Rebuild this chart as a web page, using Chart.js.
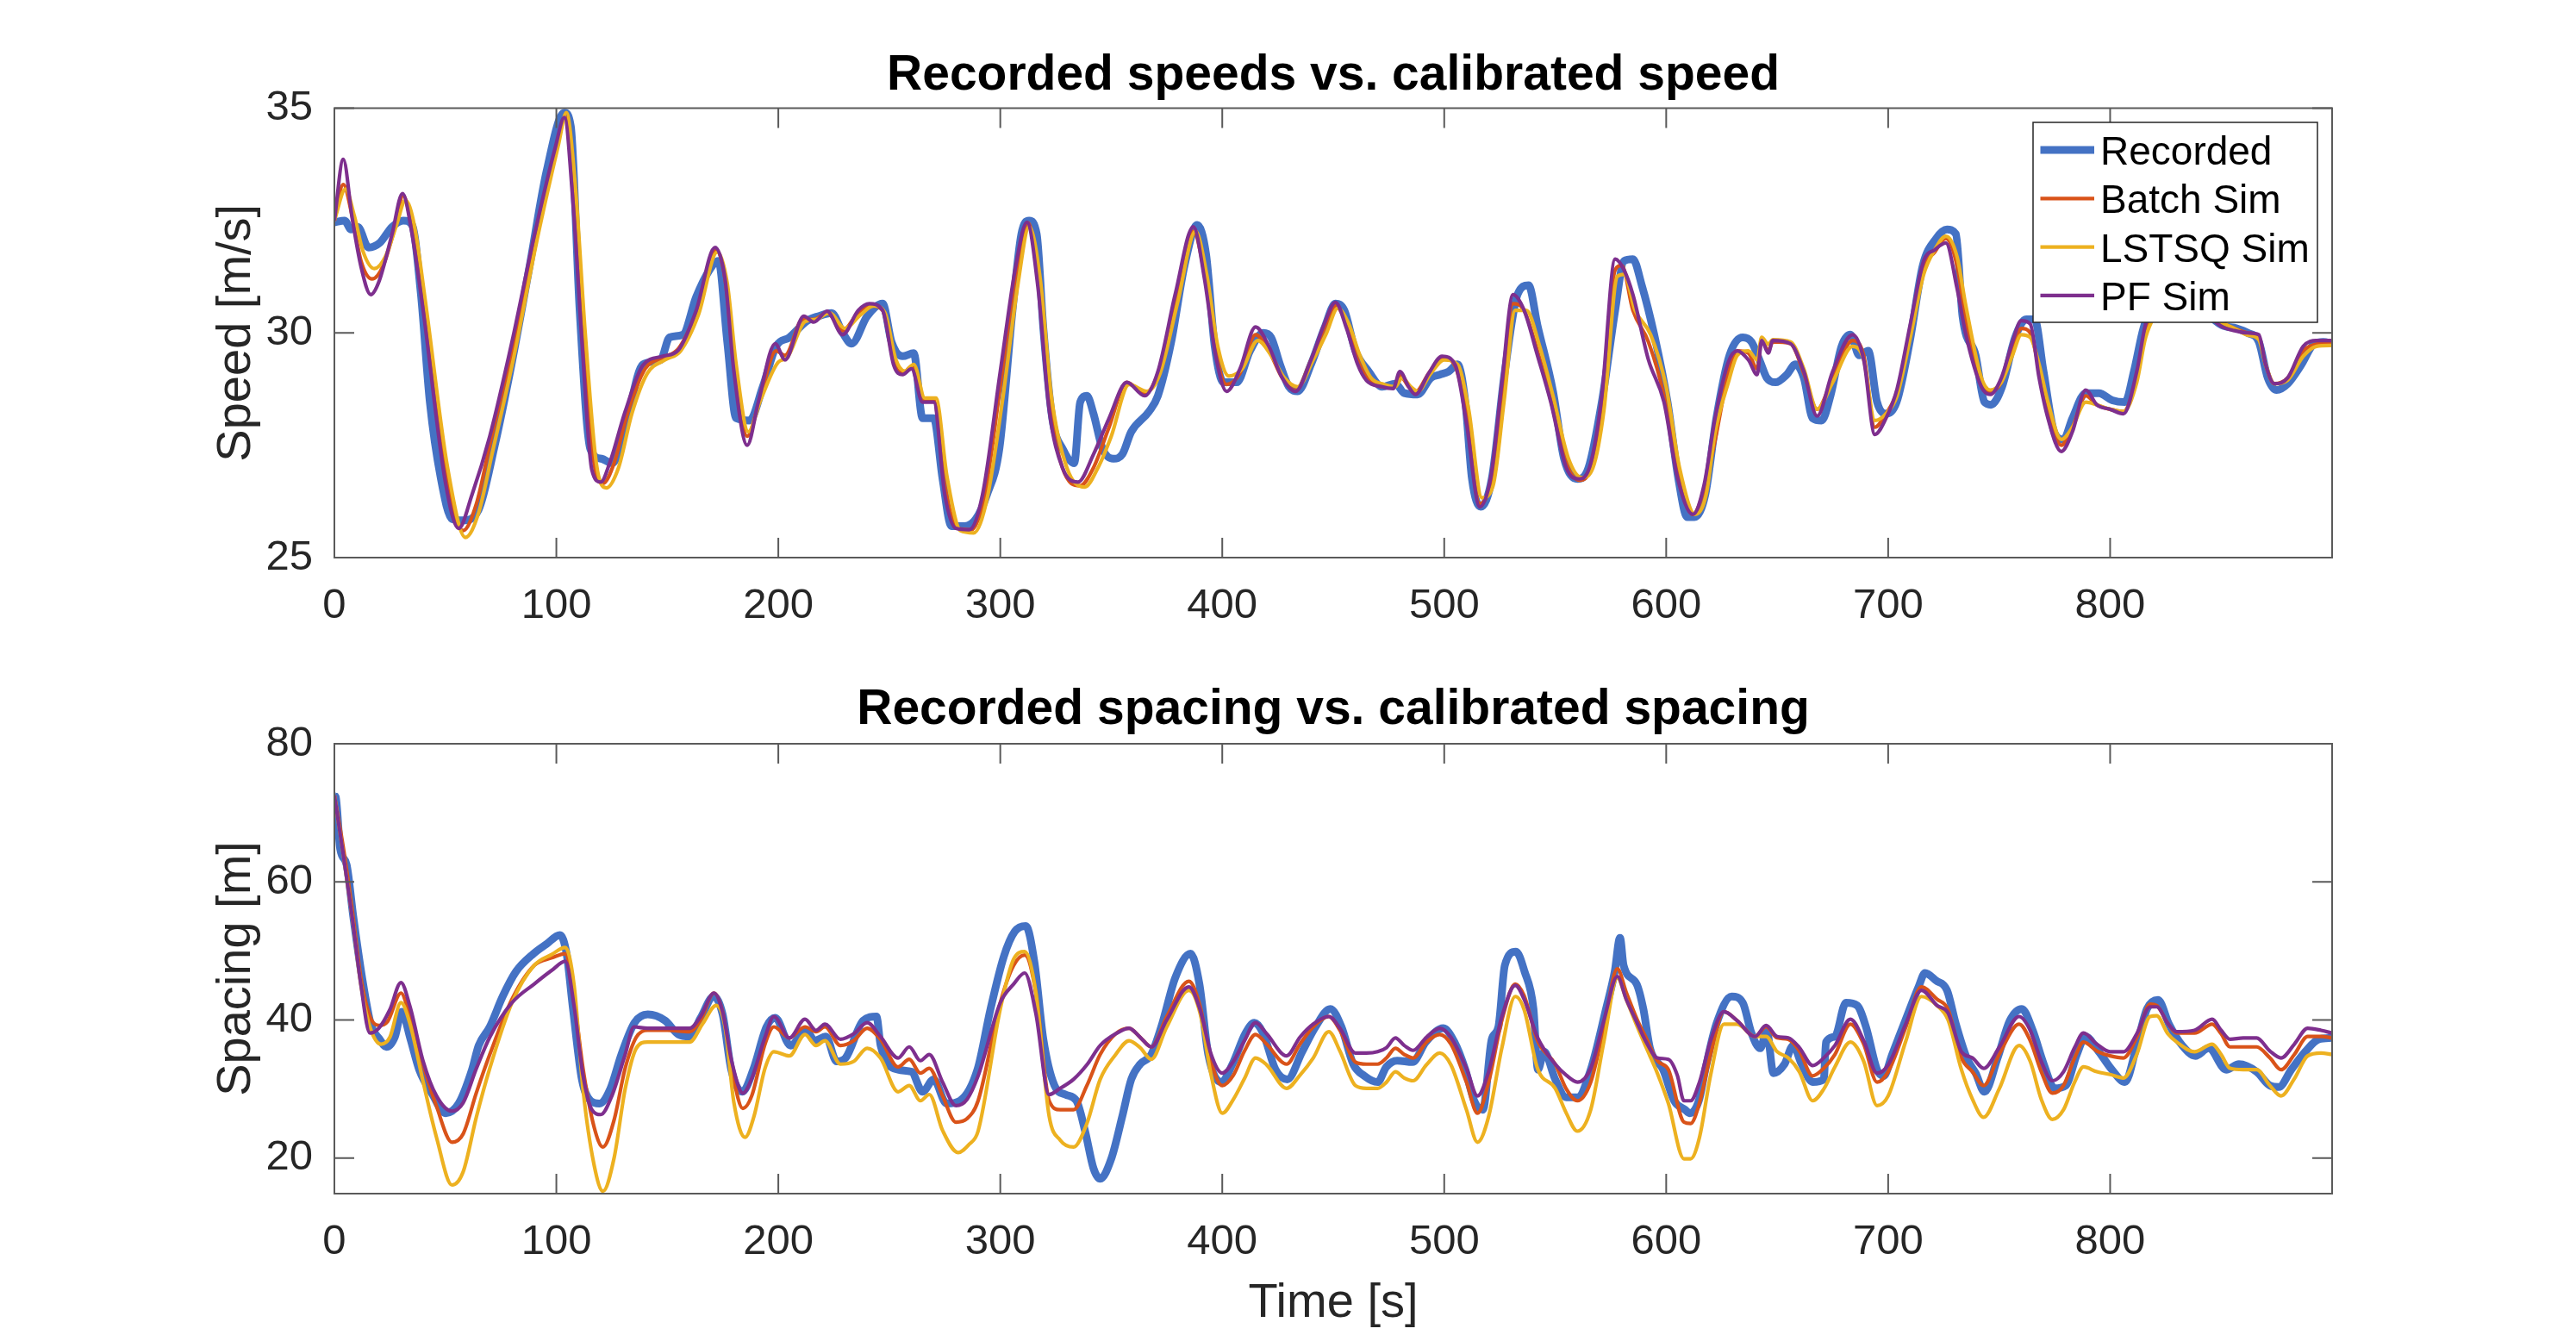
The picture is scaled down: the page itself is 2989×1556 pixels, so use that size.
<!DOCTYPE html>
<html lang="en">
<head>
  <meta charset="UTF-8">
  <script src="https://cdn.jsdelivr.net/npm/chart.js"></script>
  <title>Recorded vs calibrated</title>
  <style>
    body{margin:0;background:#fff;overflow:hidden;}
    .plot{position:relative;width:2989px;height:778px;}
  </style>
</head>
<body>
  <div class="plot"><canvas id="speedChart"></canvas></div>
  <div class="plot"><canvas id="spacingChart"></canvas></div>
<script>
// series names and ticks
const seriesNames = ['Recorded', 'Batch Sim', 'LSTSQ Sim', 'PF Sim'];
const timeTicks = [0, 100, 200, 300, 400, 500, 600, 700, 800];
const speedTicks = [25, 30, 35];
const spacingTicks = [20, 40, 60, 80];

// speed [m/s], pairs of [time s, value]
const speedRecorded = [[0,32.46],[4.6,32.5],[7.5,32.3],[10.5,32.36],[15.4,31.9],[20.4,32.0],[26,32.36],[31,32.5],[35,32.4],[39,30.85],[43,28.46],[48,26.75],[53,25.86],[58,25.83],[65,26.07],[72,27.44],[80,29.35],[88,31.5],[95.6,33.6],[103.6,34.9],[106.5,34.6],[110.5,30.5],[115.4,27.4],[120.4,27.2],[125.3,27.1],[131,27.9],[139,29.3],[147,29.4],[151,29.9],[157,29.96],[163,30.8],[169,31.4],[173,31.6],[177,29.8],[181,28.1],[187,28.05],[193,28.8],[199,29.7],[205,29.9],[213,30.27],[218,30.37],[224,30.44],[229,30.0],[233,29.76],[240,30.37],[247,30.65],[251,29.8],[256,29.48],[261,29.55],[265,28.1],[270,28.1],[274,26.75],[278,25.7],[284,25.7],[289,25.86],[294,26.4],[299.6,27.43],[305.5,30.5],[309.5,32.2],[313,32.5],[316.4,32.2],[319.4,30.1],[323.4,28.1],[328.3,27.4],[333.3,27.1],[336,28.46],[339,28.6],[342,28.2],[346,27.43],[351,27.2],[355,27.3],[359,27.8],[367,28.25],[371,28.6],[377,29.8],[383,31.5],[388.7,32.4],[392.7,31.75],[396.6,29.7],[400.6,28.9],[406.5,28.9],[412.5,29.6],[418.4,30.0],[422,29.9],[426,29.3],[430,28.8],[434,28.7],[440,29.3],[446,30.1],[451,30.65],[455,30.5],[460,29.6],[466,29.14],[472,28.8],[478,28.87],[482,28.66],[488,28.63],[494,29.0],[498,29.07],[502,29.14],[506,29.3],[509.5,28.46],[512.5,26.75],[516.4,26.13],[521.4,26.75],[527.3,29.14],[533,30.85],[538,31.06],[542,30.17],[549,28.7],[554,27.2],[560,26.75],[565,27.0],[571,28.46],[577,30.5],[581,31.6],[585,31.64],[589,31.06],[594.6,29.96],[600.6,28.46],[605.5,26.75],[609.5,25.9],[612.7,25.9],[617.6,26.4],[622.6,28.1],[628.5,29.5],[634.5,29.9],[638.4,29.8],[642.4,29.35],[645.3,29.0],[649.3,28.9],[654.3,29.07],[658.2,29.3],[662,29.0],[666,28.1],[670,28.05],[674,28.6],[679,29.7],[683,29.96],[687,29.5],[691,29.6],[695,28.46],[698.8,28.2],[703.8,28.46],[709.7,29.8],[715.6,31.5],[721.6,32.1],[726.5,32.3],[730.5,32.2],[733.5,30.37],[739.4,29.5],[743.4,28.46],[746.3,28.4],[751.3,28.8],[757.2,29.9],[762.2,30.3],[766,30.3],[770,29.14],[775,27.77],[779,27.63],[783,28.1],[789,28.66],[795,28.66],[801,28.5],[806.7,28.46],[810.7,29.14],[815,30.1],[822,30.9],[830,31.0],[840,30.6],[850.3,30.17],[857,30.1],[862,30.0],[867,29.8],[871,29.0],[875,28.73],[880,28.87],[886,29.28],[892,29.76],[896,29.8],[900,29.76]];
const speedBatch = [[0,32.5],[4,33.3],[8,32.6],[12,31.6],[17,31.2],[22,31.5],[27,32.3],[31,33.05],[35,32.3],[40,30.6],[50,26.9],[58,25.6],[64,26.2],[70,27.5],[80,29.6],[90,32.0],[100,34.1],[104,34.8],[108,33.0],[112,29.9],[117,27.1],[121,26.65],[126,27.1],[132,28.2],[140,29.2],[148,29.45],[155,29.65],[163,30.45],[172,31.85],[176,31.2],[180,29.3],[186,27.7],[191,28.4],[199,29.6],[203,29.5],[211,30.3],[216,30.3],[222,30.45],[229,30.05],[236,30.45],[242,30.6],[247,30.5],[252,29.35],[256,29.1],[260,29.25],[265,28.5],[270,28.5],[275,26.6],[281,25.65],[287,25.62],[293,26.4],[300,28.8],[307,31.3],[312.5,32.45],[317,31.2],[322,28.5],[328,27.0],[336,26.6],[342,27.0],[349,27.9],[357,28.9],[365,28.65],[371,29.1],[379,30.8],[387,32.26],[392,31.3],[397,29.6],[402,28.85],[408,29.1],[415,29.96],[421,29.6],[427,29.0],[433,28.72],[440,29.4],[446,30.1],[451,30.6],[456,30.2],[461,29.4],[466,28.95],[472,28.8],[477,28.78],[480,29.05],[484,28.8],[487,28.68],[493,29.1],[499,29.45],[505,29.25],[510,28.2],[516,26.2],[521,26.7],[526,28.7],[531,30.65],[536,30.5],[542,29.6],[548,28.5],[555,27.1],[561,26.72],[566,27.0],[571,28.4],[577,31.4],[580,31.5],[585,30.5],[592,29.8],[599,28.6],[605,26.9],[612,25.96],[617,26.5],[622,27.6],[628,29.1],[632,29.6],[637,29.55],[641,29.2],[643,29.85],[646,29.6],[648,29.8],[656,29.76],[662,29.1],[668,28.3],[675,29.0],[684,29.83],[689,29.5],[694,27.9],[699,28.2],[704,28.7],[710,30.1],[716,31.45],[721,31.8],[726,32.1],[731,31.5],[735,30.3],[742,28.9],[746,28.7],[751,28.9],[756,29.6],[760,30.1],[764,30.0],[768,29.2],[772,28.3],[778,27.5],[783,27.9],[789,28.6],[794,28.4],[800,28.3],[806,28.25],[812,29.0],[816,30.0],[824,30.7],[832,30.8],[842,30.5],[850,30.24],[856,30.1],[862,30.0],[867,29.9],[870,29.3],[874,28.87],[880,29.0],[887,29.6],[893,29.75],[900,29.78]];
const speedLstsq = [[0,32.5],[5,33.2],[9,32.6],[13,31.8],[18,31.43],[23,31.7],[28,32.4],[32,32.95],[36,32.4],[41,30.7],[51,27.0],[59,25.45],[65,26.0],[71,27.3],[81,29.5],[91,32.0],[101,34.2],[104.5,34.9],[108.5,33.3],[113,30.0],[118,27.1],[122.5,26.55],[128,27.0],[134,28.2],[141,29.1],[149,29.4],[156,29.6],[164,30.4],[172.5,31.8],[177,31.1],[181,29.3],[186.5,27.8],[192,28.5],[200,29.35],[204,29.45],[212,30.25],[217,30.3],[223,30.45],[230,30.1],[237,30.4],[243,30.6],[248,30.45],[253,29.4],[257,29.15],[261,29.3],[266,28.55],[271,28.55],[276,26.8],[282,25.6],[288,25.55],[294,26.3],[301,28.5],[308,31.1],[313,32.36],[318,31.2],[323,28.6],[330,27.0],[338,26.57],[344,27.0],[350,27.7],[358,28.85],[366,28.7],[372,29.1],[380,30.7],[388,32.26],[393,31.3],[398,29.7],[403,29.04],[409,29.2],[416,29.83],[422,29.5],[428,29.0],[434,28.8],[441,29.4],[447,30.0],[452,30.55],[457,30.2],[462,29.5],[467,29.0],[473,28.85],[478,28.8],[481,29.0],[485,28.8],[488,28.7],[494,29.1],[500,29.4],[506,29.3],[511,28.3],[517,26.33],[522,26.6],[527,28.5],[532,30.5],[537,30.5],[543,29.7],[549,28.6],[556,27.2],[562,26.78],[567,27.0],[572,28.3],[578,31.26],[581,31.3],[586,30.5],[593,29.96],[600,28.8],[606,27.0],[613,25.96],[618,26.4],[622,27.77],[628,28.9],[632,29.5],[637,29.6],[641,29.4],[643,29.9],[646,29.75],[648,29.85],[656,29.8],[662,29.2],[668,28.3],[675,28.9],[684,29.7],[689,29.4],[694,28.05],[699,28.2],[704,28.6],[710,29.9],[716,31.3],[721,31.85],[726,32.15],[731,31.7],[735,30.6],[742,29.0],[746,28.73],[751,28.9],[756,29.5],[760,29.96],[764,29.9],[768,29.3],[772,28.46],[778,27.63],[783,27.9],[789,28.46],[794,28.4],[800,28.3],[806,28.25],[812,28.9],[816,29.9],[824,30.6],[832,30.8],[842,30.5],[850,30.24],[856,30.1],[862,29.95],[867,29.85],[870,29.3],[874,28.87],[880,28.95],[887,29.48],[893,29.7],[900,29.72]];
const speedPf = [[0,32.5],[4,33.86],[8,32.56],[12,31.47],[16.4,30.85],[20,31.13],[26,32.2],[30.7,33.1],[35,32.2],[40,30.5],[50,26.68],[56,25.65],[62,26.4],[70,27.7],[80,29.8],[90,32.15],[99.6,34.14],[103.6,34.79],[107.5,32.9],[111.5,29.83],[116,26.95],[120,26.68],[124,27.1],[131,28.25],[139,29.28],[148,29.48],[155,29.62],[163,30.5],[171.5,31.9],[176,31.2],[180,29.14],[186,27.5],[191,28.46],[198.6,29.76],[203,29.4],[211.5,30.37],[216,30.24],[222,30.48],[229,29.96],[236,30.5],[241,30.65],[247,30.5],[252,29.28],[256,29.07],[260,29.2],[265,28.46],[270,28.46],[275,26.4],[280,25.65],[286,25.62],[292,26.4],[300,29.14],[307,31.5],[312,32.46],[317,31.0],[322,28.3],[328,27.0],[335,26.68],[342,27.3],[349,28.1],[357,28.9],[365,28.6],[371,29.14],[379,30.9],[387,32.36],[392,31.2],[397,29.5],[402,28.7],[408,29.2],[415,30.13],[421,29.7],[427,29.0],[433,28.7],[440,29.4],[446,30.2],[451,30.68],[456,30.1],[461,29.3],[465,28.94],[472,28.8],[477,28.76],[480,29.14],[484,28.8],[487,28.63],[493,29.1],[499,29.48],[505,29.28],[510,28.0],[516,26.13],[521,26.8],[526,28.9],[531,30.85],[536,30.5],[542,29.5],[548,28.46],[555,27.0],[561,26.75],[566,27.1],[571,28.6],[577,31.64],[581,31.4],[585,30.85],[592,29.4],[599,28.46],[605,26.8],[612,25.96],[617,26.6],[622,28.1],[628,29.35],[632,29.6],[637,29.4],[641,29.07],[643,29.83],[646,29.55],[648,29.83],[656,29.76],[662,29.14],[668,28.15],[675,29.14],[684,29.96],[689,29.4],[694,27.74],[699,28.1],[704,28.75],[710,30.2],[716,31.6],[721,31.85],[726,32.0],[731,31.0],[735,29.96],[742,28.8],[746,28.63],[751,29.0],[756,29.8],[760,30.27],[764,30.2],[768,29.0],[772,28.1],[778,27.36],[783,27.8],[789,28.73],[794,28.4],[800,28.3],[806,28.2],[812,29.14],[816,30.2],[824,30.8],[832,30.9],[842,30.5],[850,30.15],[856,30.05],[862,30.0],[867,29.96],[870,29.3],[874,28.87],[880,29.0],[887,29.7],[893,29.83],[900,29.83]];

// spacing [m], pairs of [time s, value]
const spacingRecorded = [[0,72.5],[0.6,72.3],[2.6,64.8],[5.5,62.5],[8.5,55],[12.5,46.1],[16.4,39.4],[20.4,37.2],[23.4,36.1],[27.3,37.6],[30.3,41.2],[34.3,37.2],[38.2,32.8],[44.2,29.2],[50.1,26.5],[56,27.9],[62,32.8],[65,36.3],[70,39.0],[75.8,43.4],[81.8,47.0],[89.7,49.6],[95.6,51.0],[101.6,52.3],[104.6,49.6],[107.5,41.6],[111.5,31.4],[115.4,28.3],[119.4,27.9],[124.4,30.1],[129.3,35.0],[135.2,39.6],[141.2,40.8],[149,39.9],[155,37.9],[160,37.6],[165,40.3],[170.9,43.4],[174.9,40.8],[178.8,32.8],[183.8,29.6],[188.7,32.8],[194.7,39.0],[198.6,40.3],[205.5,36.3],[212.5,38.5],[216.4,37.0],[221.4,37.6],[226.3,34.0],[230.3,34.5],[238.2,39.9],[244.2,40.5],[246.1,36.3],[254,32.8],[260,32.5],[265,29.6],[270,31.4],[275.8,27.9],[281.8,28.3],[289.7,32.8],[295.6,41.6],[301.6,49.2],[306.5,52.8],[311.5,53.6],[315.4,48.3],[319.4,37.2],[324.4,30.5],[329.3,29.2],[334.3,28.3],[338.2,23.9],[342,18.5],[345,17.0],[350,19.9],[355,26.1],[359,31.4],[363,33.6],[368,35.0],[372.9,39.4],[378.8,46.1],[385.7,49.6],[389.7,45.2],[393.7,35.0],[399.6,31.0],[404.6,33.6],[410.5,38.1],[414.5,39.6],[418.4,38.1],[424,32.8],[429.3,31.4],[436,35.4],[442,39.0],[448.7,41.6],[453.7,39.0],[459,33.6],[464,31.9],[470,31.0],[473.9,33.2],[478.8,34.1],[485.7,33.9],[491.7,36.8],[499.6,38.8],[504.6,36.8],[509.5,32.8],[513.5,28.3],[517.4,27.0],[521.4,37.2],[524.4,39.0],[527.3,47.9],[532.3,49.9],[536.2,47.0],[540.2,41.6],[542.2,32.8],[545,35.4],[550,31.4],[555,28.8],[560,28.8],[566,32.8],[572.9,41.6],[576.8,47.0],[579.2,51.9],[580.8,47.9],[586.7,45.2],[589.7,41.6],[592.7,35.9],[598.6,32.8],[603.6,28.3],[608.5,27.0],[610.7,26.5],[614.7,28.3],[617.6,32.8],[622.6,39.4],[629.5,43.4],[634.5,42.5],[638.4,38.1],[642.4,35.9],[645.3,38.5],[648.3,32.3],[653.3,33.6],[657.2,36.3],[661,33.6],[666,31.0],[671,31.4],[672,36.8],[676,37.6],[681,42.5],[686,42.1],[690,39.0],[695,32.8],[698,31.9],[701.8,35.0],[707.7,39.9],[713.7,44.8],[716.6,46.8],[721.6,45.7],[726.5,44.3],[730.5,39.4],[735.4,34.5],[739.4,32.3],[743.4,29.6],[749.3,34.5],[754.8,39.9],[760.2,41.6],[765.1,38.5],[770.1,33.6],[775,30.1],[780,30.5],[785,35.0],[788.9,37.6],[794.9,35.4],[800.8,32.8],[806.7,31.0],[811.7,35.9],[816.6,41.6],[821.6,42.9],[826.5,39.4],[832.5,36.3],[838.4,34.8],[844.4,35.9],[852.3,32.8],[858,33.6],[866,32.5],[872,30.5],[876,30.3],[881.6,32.8],[887.9,35.4],[894,37.2],[900,37.4]];
const spacingBatch = [[0,72.5],[4,65],[8,56],[12,46],[16,40.5],[20,39.2],[24,39.8],[30,43.9],[34,40.5],[40,33.5],[46,27.5],[53,22.3],[58,23.5],[64,29.5],[70,35],[80,43],[90,47.9],[98,49.0],[104,49.6],[108,43],[112,33],[117,24.5],[121,21.6],[126,25.5],[131,33],[136,37.5],[141,38.5],[150,38.5],[160,38.3],[165,40],[171,43.9],[175,41],[179,33],[184,27.2],[188,29],[194,36.5],[198,39.0],[205,37.4],[212,39],[217,38.3],[221,39],[228,36.3],[234,37],[240,38.8],[246,37.2],[254,33.2],[259,34.3],[264,32.3],[268,33.0],[274,29],[280,25.2],[285,25.7],[290,28.3],[300,42.5],[306,47.9],[311,49.4],[316,44],[322,28.3],[327,27.0],[333,27.0],[339,30.5],[345,35],[352,38],[358,38.8],[363,37.5],[368,36.1],[375,40.5],[385,45.6],[390,42],[395,34],[400,30.5],[405,32],[410,35.5],[415,37.9],[420,36.5],[429,33.6],[435,36.5],[441,39],[448,40.5],[453,38.5],[460,33.9],[465,33.6],[470,33.6],[474,34.5],[478,35.9],[482,35.0],[486,34.5],[492,36.8],[498,37.9],[503,36.5],[510,31],[515,26.5],[520,31],[526,40],[532,45.2],[536,43.5],[542,37],[550,33.6],[555,30],[560,28.3],[566,31],[572,39],[578,47.4],[582,44],[587,40],[591,37.4],[596,34.1],[601,32.8],[608,25.2],[611,25.0],[615,28],[620,35],[626,41.2],[632,39.9],[640,37.6],[645,39],[650,37.4],[655,37.2],[660,35.5],[666,31.9],[671,33],[676,35],[683,39.4],[689,36.5],[695,31.0],[700,32.5],[708,39],[715,44.8],[722,43],[727,41.5],[733,34.5],[738,32.5],[743,30.5],[750,35],[759,39.4],[764,37],[769,32.5],[774,29.4],[779,30.5],[784,34.5],[788,36.8],[794,35.5],[800,34.8],[806,34.5],[812,37.5],[818,42.3],[821,42.1],[826,39.5],[830,38.1],[838,38.1],[846,39.4],[850,38],[854,36.1],[860,36.1],[866,36.1],[872,34.5],[877,32.8],[883,35],[889,37.6],[895,37.6],[900,37.4]];
const spacingLstsq = [[0,72.5],[4,64],[8,55],[12,45],[16,39],[21,36.5],[25,37.5],[30,42.5],[34,39.5],[40,31],[46,23],[53,16.1],[58,18],[64,26],[70,33],[80,42.5],[90,47.9],[98,49.5],[104,50.5],[108,45],[112,30],[117,19],[121,15.2],[126,20],[131,30],[136,35.9],[141,36.8],[150,36.8],[160,36.8],[166,39.5],[172,42.1],[176,39],[180,28],[185,23.0],[189,26],[194,33],[198,35.4],[205,34.8],[212,37.9],[217,36.3],[221,37],[228,33.6],[234,34],[240,35.9],[246,34.5],[254,29.6],[259,30.5],[264,28.3],[268,29.2],[274,24],[281,20.8],[286,22],[290,23.9],[300,41.6],[306,48.8],[311,49.9],[316,44],[322,26.1],[327,22.6],[333,21.6],[339,25],[345,31.4],[352,35],[358,37.0],[363,36],[368,34.3],[375,39],[385,44.3],[390,41],[395,32],[400,26.5],[405,28.5],[410,31.5],[415,34.5],[420,33.5],[429,30.1],[435,32],[441,34.5],[448,38.3],[453,35.5],[460,30.5],[465,30.1],[470,30.1],[474,31],[478,32.5],[482,31.6],[486,31.2],[492,33.5],[498,35.2],[503,33.5],[510,27],[515,22.3],[520,26],[526,36],[532,43.4],[536,41.5],[542,33],[550,30.1],[555,26.5],[560,23.9],[566,27],[572,37],[578,46.1],[582,43],[587,39],[591,36],[596,32.3],[601,27.9],[608,19.9],[611,19.9],[615,23],[620,32],[626,39.4],[632,39.4],[640,37.6],[645,37.6],[650,35.4],[655,34.5],[660,32.5],[666,28.3],[671,30],[676,33.2],[683,36.8],[689,34],[695,27.6],[700,29],[708,37],[715,43.4],[722,42.1],[727,40],[733,32.8],[738,28.5],[743,25.9],[750,30],[759,36.3],[764,34],[769,28.5],[774,25.6],[779,27],[784,31],[788,33.2],[794,32.5],[800,32.1],[806,31.6],[812,35],[818,40.5],[821,40.6],[826,38],[830,36.8],[838,35.4],[846,36.5],[850,35],[854,33.0],[860,32.8],[866,32.8],[872,30.5],[877,29.0],[883,31.5],[889,34.8],[895,35.2],[900,35.0]];
const spacingPf = [[0,72.5],[4,64],[8,55],[12,45],[16,38.1],[20,38.8],[25,41.5],[30,45.4],[34,42],[40,34],[46,29],[53,26.8],[58,28],[64,33],[70,37.5],[80,42.5],[90,45.2],[98,47.2],[104,48.5],[108,42],[112,32],[116,27],[120,26.3],[125,29],[131,35],[135,39.0],[141,38.8],[150,38.8],[160,38.8],[165,40.5],[171,43.9],[175,41],[179,34],[184,29.4],[188,31.5],[194,37.5],[198,40.5],[205,37.4],[212,40.1],[217,38.5],[221,39.4],[228,37.2],[234,38],[240,39.6],[246,37.6],[254,34.5],[259,36.1],[264,34.1],[268,35.0],[274,31],[280,27.6],[285,28.5],[290,31.9],[300,42.5],[306,45.2],[311,46.8],[316,41],[322,29.2],[327,30.1],[333,31.4],[339,33.5],[345,36.3],[352,38],[358,38.8],[363,37.5],[368,36.1],[375,40],[385,44.8],[390,41.5],[395,35],[400,32.3],[405,34],[410,37],[415,39.6],[420,38],[429,34.8],[435,37.5],[441,39.4],[448,40.5],[453,38.8],[460,35.2],[465,35.2],[470,35.4],[474,36],[478,37.4],[482,36.3],[486,35.6],[492,37.5],[498,38.8],[503,37.5],[510,33],[515,29.0],[520,32.5],[526,40.5],[532,45.0],[536,43],[542,37.5],[550,33.6],[555,32],[560,31.0],[566,33],[572,40],[578,46.3],[582,43],[587,39.5],[591,36.8],[596,34.5],[601,34.3],[605,32],[608,28.3],[611,28.3],[615,31],[620,37],[626,41.2],[632,39.9],[640,37.6],[645,39.2],[650,37.6],[655,37.4],[660,36],[666,33.4],[671,34.5],[676,36.3],[683,40.1],[689,37],[695,32.3],[700,33.5],[708,39.5],[715,44.3],[722,42.1],[727,41],[733,35.4],[738,34.5],[743,33.0],[750,36],[759,40.5],[764,38.5],[769,34],[774,31.2],[779,32.5],[784,36],[788,38.1],[794,36.5],[800,35.4],[806,35.4],[812,38],[818,41.9],[821,41.9],[826,39.5],[830,38.3],[838,38.5],[846,40.1],[850,38.5],[854,37.2],[860,37.4],[866,37.4],[872,35.5],[877,34.5],[883,36.5],[889,38.8],[895,38.5],[900,38.1]];

const colors = ['#4472C4', '#D95319', '#EDB120', '#7E2F8E'];
const widths = [9, 4.2, 4.2, 4.2];
const FONT = "'Liberation Sans', Arial, Helvetica, sans-serif";

// matlab style box with inward ticks
const boxTicks = {
  id: 'boxTicks',
  afterDatasetsDraw(chart) {
    const {ctx, chartArea: a, scales: {x, y}} = chart;
    const len = 23;
    ctx.save();
    ctx.strokeStyle = '#5a5a5a';
    ctx.lineWidth = 2;
    ctx.strokeRect(a.left, a.top, a.right - a.left, a.bottom - a.top);
    ctx.beginPath();
    x.ticks.forEach(t => {
      const px = x.getPixelForValue(t.value);
      ctx.moveTo(px, a.bottom); ctx.lineTo(px, a.bottom - len);
      ctx.moveTo(px, a.top); ctx.lineTo(px, a.top + len);
    });
    y.ticks.forEach(t => {
      const py = y.getPixelForValue(t.value);
      ctx.moveTo(a.left, py); ctx.lineTo(a.left + len, py);
      ctx.moveTo(a.right, py); ctx.lineTo(a.right - len, py);
    });
    ctx.stroke();
    ctx.restore();
  }
};

// legend box inside the top axes
const insideLegend = {
  id: 'insideLegend',
  afterDraw(chart, args, opts) {
    if (!opts.show) return;
    const {ctx, chartArea: a} = chart;
    const w = 330, h = 232;
    const left = a.right - 17 - w, top = a.top + 16.5;
    ctx.save();
    ctx.fillStyle = '#fff';
    ctx.fillRect(left, top, w, h);
    ctx.strokeStyle = '#262626';
    ctx.lineWidth = 1.5;
    ctx.strokeRect(left, top, w, h);
    ctx.font = '46px ' + FONT;
    ctx.textBaseline = 'alphabetic';
    chart.data.datasets.forEach((ds, i) => {
      const base = top + 49 + i * 56.3;
      ctx.strokeStyle = ds.borderColor;
      ctx.lineWidth = ds.borderWidth;
      ctx.beginPath();
      ctx.moveTo(left + 8.5, base - 17);
      ctx.lineTo(left + 71, base - 17);
      ctx.stroke();
      ctx.fillStyle = '#000';
      ctx.fillText(ds.label, left + 78, base);
    });
    ctx.restore();
  }
};

function makeChart(id, series, cfg) {
  const datasets = series.map((s, i) => ({
    label: seriesNames[i],
    data: s.map(p => ({x: p[0], y: p[1]})),
    borderColor: colors[i],
    borderWidth: widths[i],
    pointRadius: 0,
    cubicInterpolationMode: 'monotone',
    fill: false,
    order: 4 - i
  }));
  return new Chart(document.getElementById(id), {
    type: 'line',
    data: {datasets},
    plugins: [boxTicks, insideLegend],
    options: {
      responsive: true,
      maintainAspectRatio: false,
      animation: false,
      layout: {padding: {left: 0, right: 283, top: 0, bottom: 0}},
      plugins: {
        legend: {display: false},
        tooltip: {enabled: false},
        insideLegend: {show: cfg.legend},
        title: {
          display: true,
          text: cfg.title,
          fullSize: false,
          color: '#000',
          font: {family: FONT, size: 57, weight: 'bold', lineHeight: 1.2},
          padding: cfg.titlePad
        }
      },
      scales: {
        x: {
          type: 'linear',
          min: 0, max: 900,
          afterBuildTicks: s => { s.ticks = timeTicks.map(v => ({value: v})); },
          afterFit: s => { s.height = cfg.xHeight; },
          grid: {display: false},
          border: {display: false},
          ticks: {color: '#262626', font: {family: FONT, size: 49, lineHeight: 1.2}, padding: 19.5, maxRotation: 0, autoSkip: false},
          title: {
            display: cfg.xTitle,
            text: 'Time [s]',
            color: '#262626',
            font: {family: FONT, size: 56, lineHeight: 1.2},
            padding: {top: 0, bottom: 9.4}
          }
        },
        y: {
          min: cfg.yMin, max: cfg.yMax,
          afterBuildTicks: s => { s.ticks = cfg.yTicks.map(v => ({value: v})); },
          afterFit: s => { s.width = 388; },
          grid: {display: false},
          border: {display: false},
          ticks: {color: '#262626', font: {family: FONT, size: 49}, padding: 17},
          title: {
            display: true,
            text: cfg.yLabel,
            color: '#262626',
            font: {family: FONT, size: 56, lineHeight: 1.2},
            padding: {top: 241, bottom: 0}
          }
        }
      }
    }
  });
}

makeChart('speedChart', [speedRecorded, speedBatch, speedLstsq, speedPf], {
  title: 'Recorded speeds vs. calibrated speed',
  titlePad: {top: 53.8, bottom: 3.3},
  yLabel: 'Speed [m/s]',
  yMin: 25, yMax: 35, yTicks: speedTicks,
  xHeight: 131, xTitle: false, legend: true
});

makeChart('spacingChart', [spacingRecorded, spacingBatch, spacingLstsq, spacingPf], {
  title: 'Recorded spacing vs. calibrated spacing',
  titlePad: {top: 12.4, bottom: 4.2},
  yLabel: 'Spacing [m]',
  yMin: 14.85, yMax: 80, yTicks: spacingTicks,
  xHeight: 171, xTitle: true, legend: false
});
</script>
</body>
</html>
